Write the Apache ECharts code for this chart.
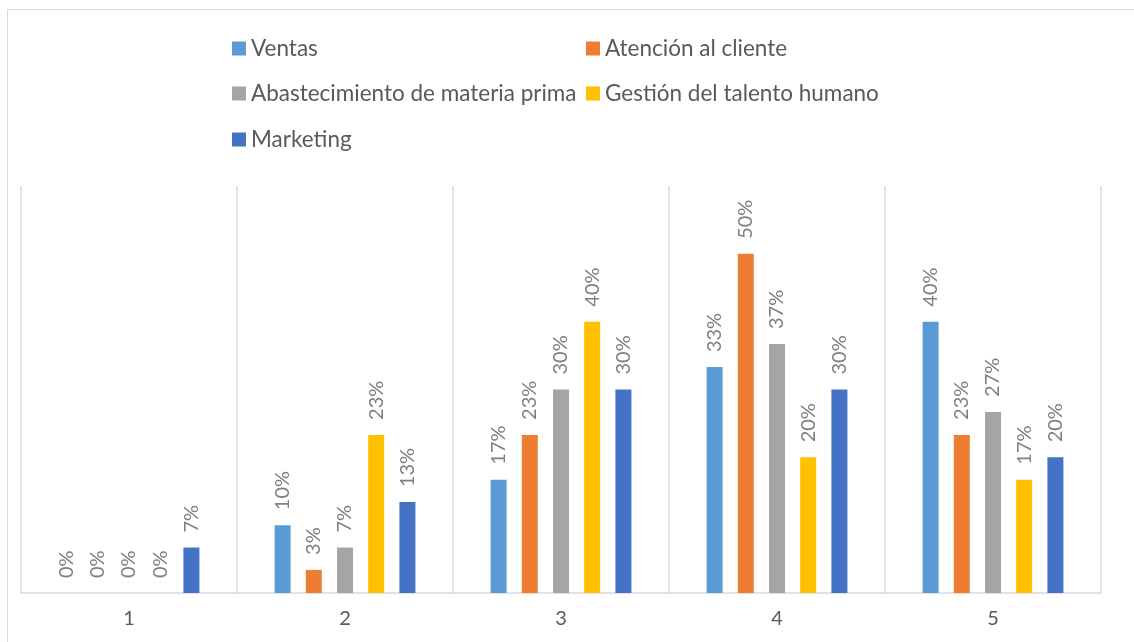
<!DOCTYPE html>
<html>
<head>
<meta charset="utf-8">
<script src="https://cdn.jsdelivr.net/npm/echarts@6/dist/echarts.min.js"></script>
<style>
  html, body { margin: 0; padding: 0; background: #fff; }
  #chart { width: 1134px; height: 642px; }
</style>
</head>
<body>
<div id="chart"></div>
<script>
// categorias (eje x) y porcentajes
var categorias = ['1', '2', '3', '4', '5'];
var ventas = [0, 0.10, 0.167, 0.333, 0.40];
var atencion = [0, 0.034, 0.233, 0.50, 0.233];
var abastecimiento = [0, 0.067, 0.30, 0.367, 0.267];
var gestion = [0, 0.233, 0.40, 0.20, 0.167];
var marketing = [0.067, 0.134, 0.30, 0.30, 0.20];

var nombres = ['Ventas', 'Atención al cliente', 'Abastecimiento de materia prima', 'Gestión del talento humano', 'Marketing'];
var colores = ['#5B9BD5', '#ED7D31', '#A5A5A5', '#FFC000', '#4472C4'];
var valores = [ventas, atencion, abastecimiento, gestion, marketing];

var fuente = 'Lato';
var myChart = echarts.init(document.getElementById('chart'));

// posiciones de la leyenda (dos columnas, como en Excel)
var posLeyenda = [[232, 37], [586, 37], [232, 82], [586, 82], [232, 128]];
var leyendas = [];
for (var i = 0; i < nombres.length; i++) {
    leyendas.push({
        data: [nombres[i]],
        left: posLeyenda[i][0],
        top: posLeyenda[i][1],
        padding: 0,
        itemWidth: 14,
        itemHeight: 14,
        icon: 'rect',
        selectedMode: false,
        textStyle: { color: '#595959', fontSize: 22.5, fontFamily: fuente }
    });
}

var series = [];
for (var i = 0; i < nombres.length; i++) {
    series.push({
        name: nombres[i],
        type: 'bar',
        data: valores[i],
        barWidth: 16,
        barGap: '95%',
        itemStyle: { color: colores[i] },
        label: {
            show: true,
            position: 'top',
            rotate: 90,
            align: 'left',
            verticalAlign: 'middle',
            distance: 15,
            color: '#808080',
            fontSize: 20,
            fontFamily: fuente,
            formatter: function (p) { return Math.round(p.value * 100) + '%'; }
        }
    });
}

var option = {
    animation: false,
    backgroundColor: '#fff',
    graphic: [{
        type: 'rect',
        shape: { x: 7.5, y: 9.5, width: 1140, height: 650 },
        style: { fill: 'none', stroke: '#d9d9d9', lineWidth: 1 }
    }],
    legend: leyendas,
    grid: { left: 21, right: 33, top: 186, bottom: 49 },
    xAxis: {
        type: 'category',
        data: categorias,
        axisTick: { show: false },
        axisLine: { lineStyle: { color: '#d9d9d9', width: 1.5 } },
        splitLine: { show: true, lineStyle: { color: '#d9d9d9', width: 1.5 } },
        axisLabel: { color: '#595959', fontSize: 20, fontFamily: fuente, margin: 16 }
    },
    yAxis: {
        type: 'value',
        min: 0,
        max: 0.6,
        show: false,
        splitLine: { show: false }
    },
    series: series
};
myChart.setOption(option);
</script>
</body>
</html>
